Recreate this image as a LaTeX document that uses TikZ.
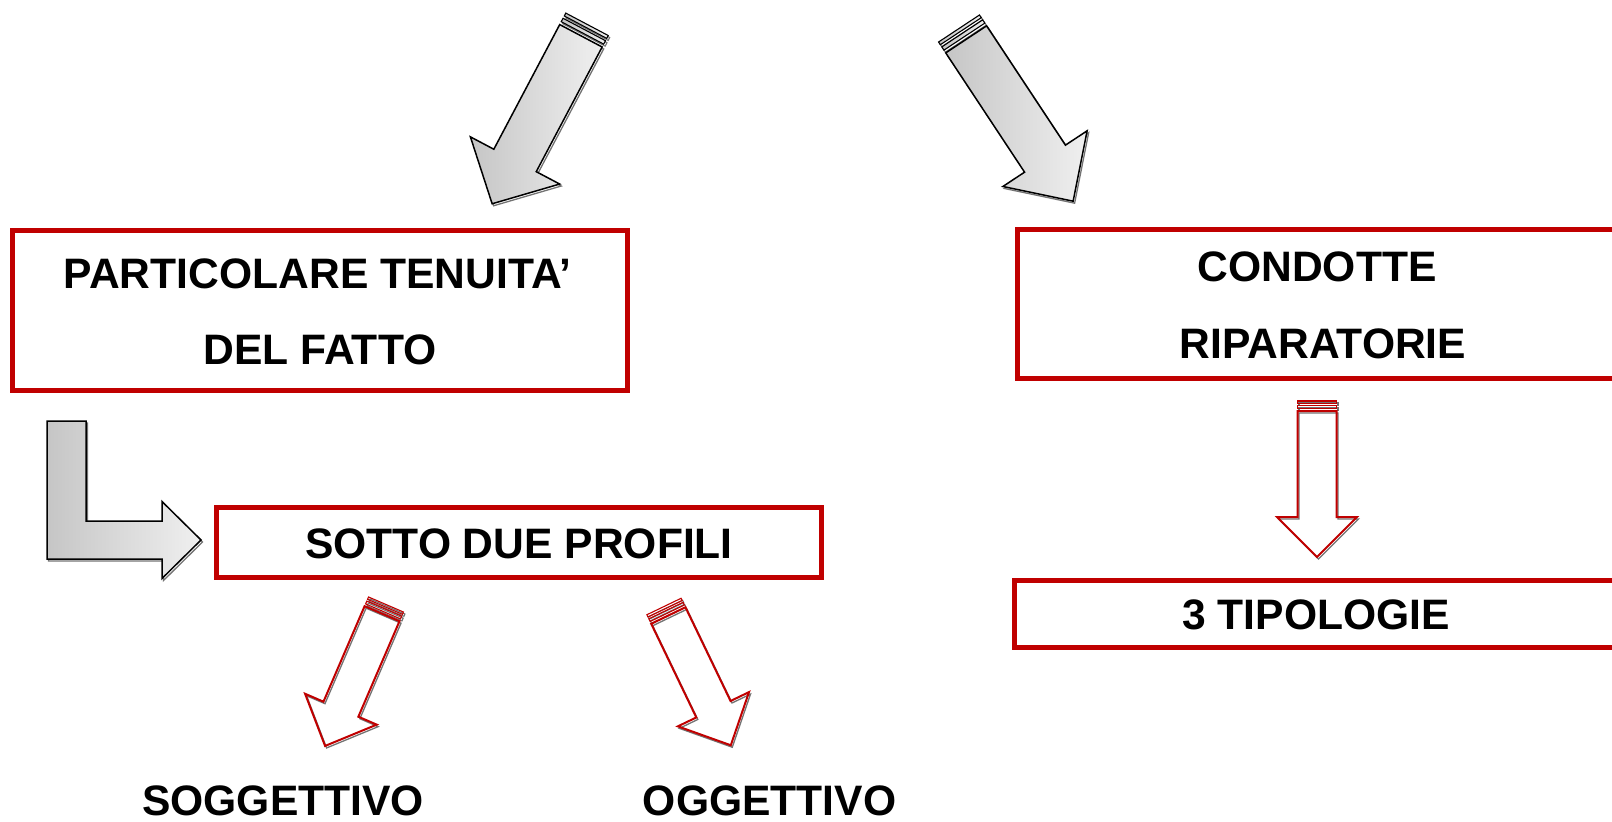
\documentclass[tikz,border=0pt]{standalone}
\usepackage{fontspec}
\setmainfont{Liberation Sans}
\definecolor{boxred}{RGB}{192,0,0}
\tikzset{
  redbox/.style={draw=boxred, line width=5pt, inner sep=0pt, outer sep=0pt},
  lbl/.style={font=\fontsize{42.6}{50}\selectfont\bfseries, inner sep=0pt, anchor=base},
  grayarrow/.style={draw=black, line width=1.5pt, line join=miter, left color=gray!45, right color=gray!12},
  redarrow/.style={draw=boxred, line width=2pt, line join=miter},
  shadowline/.style={draw=black!55, line width=1.3pt},
}
% #1 style, #2 tail point, #3 angle, #4 length, #5 half shaft, #6 half head, #7 head length, #8 stripe scale
\newcommand\blockarrow[8]{%
  \begin{scope}[shift={#2}, rotate=#3]
    \path[#1, line width=1.1pt] (0,-#5) rectangle ({#8*2.5},#5);
    \path[#1, line width=1.1pt] ({#8*4.5},-#5) rectangle ({#8*7.5},#5);
    \path[#1] ({#8*10},-#5) -- ({#4-#7},-#5) -- ({#4-#7},-#6) -- (#4,0)
      -- ({#4-#7},#6) -- ({#4-#7},#5) -- ({#8*10},#5) -- cycle;
  \end{scope}}
\newcommand\shadedarrow[8]{%
  \begin{scope}[shift={(1.5,2)}]\blockarrow{shadowline}{#2}{#3}{#4}{#5}{#6}{#7}{#8}\end{scope}
  \blockarrow{#1}{#2}{#3}{#4}{#5}{#6}{#7}{#8}}
\begin{document}
\begin{tikzpicture}[x=1pt,y=-1pt]
\useasboundingbox (0,0) rectangle (1612,822);
\clip (0,0) rectangle (1612,822);

% boxes
\node[redbox, minimum width=615pt, minimum height=159.5pt] (b1) at (320,310.25) {};
\node[redbox, minimum width=605pt, minimum height=70pt] (b2) at (518.5,542.5) {};
\node[redbox, minimum width=622.5pt, minimum height=149pt] (b3) at (1328.75,303.5) {};
\node[redbox, minimum width=625.5pt, minimum height=67pt] (b4) at (1327.25,613.5) {};

% texts
\node[lbl] (t1a) at (317.6,288) {PARTICOLARE TENUITA’};
\node[lbl] (t1b) at (320,364) {DEL FATTO};
\node[lbl] (t2) at (519,558) {SOTTO DUE PROFILI};
\node[lbl] (t3a) at (1317,281) {CONDOTTE};
\node[lbl] (t3b) at (1323,358) {RIPARATORIE};
\node[lbl] (t4) at (1316,629) {3 TIPOLOGIE};
\node[lbl] (t5) at (283,815) {SOGGETTIVO};
\node[lbl] (t6) at (769.5,815) {OGGETTIVO};

% gray striped arrows
\shadedarrow{grayarrow}{(587,24.3)}{-117.86}{203}{24}{50.5}{49}{1.3}
\shadedarrow{grayarrow}{(959,28.5)}{-56.54}{207}{24.5}{50.5}{51}{1.3}

% bent arrow
\path[shadowline] (48.5,423) -- (87.5,423) -- (87.5,523) -- (163.5,523) -- (163.5,503.5)
  -- (202.5,542) -- (163.5,580.5) -- (163.5,561) -- (48.5,561) -- cycle;
\path[grayarrow] (47,421) -- (86,421) -- (86,521) -- (162,521) -- (162,501.5)
  -- (201,540) -- (162,578.5) -- (162,559) -- (47,559) -- cycle;

% red outlined arrows
\shadedarrow{redarrow}{(386,604.5)}{-113.3}{154}{19}{39}{40}{1}
\shadedarrow{redarrow}{(664,606.5)}{-64.3}{154}{19}{39.5}{40}{1}
\shadedarrow{redarrow}{(1317,401)}{-90}{156}{19.5}{40}{40}{1}
\end{tikzpicture}
\end{document}
